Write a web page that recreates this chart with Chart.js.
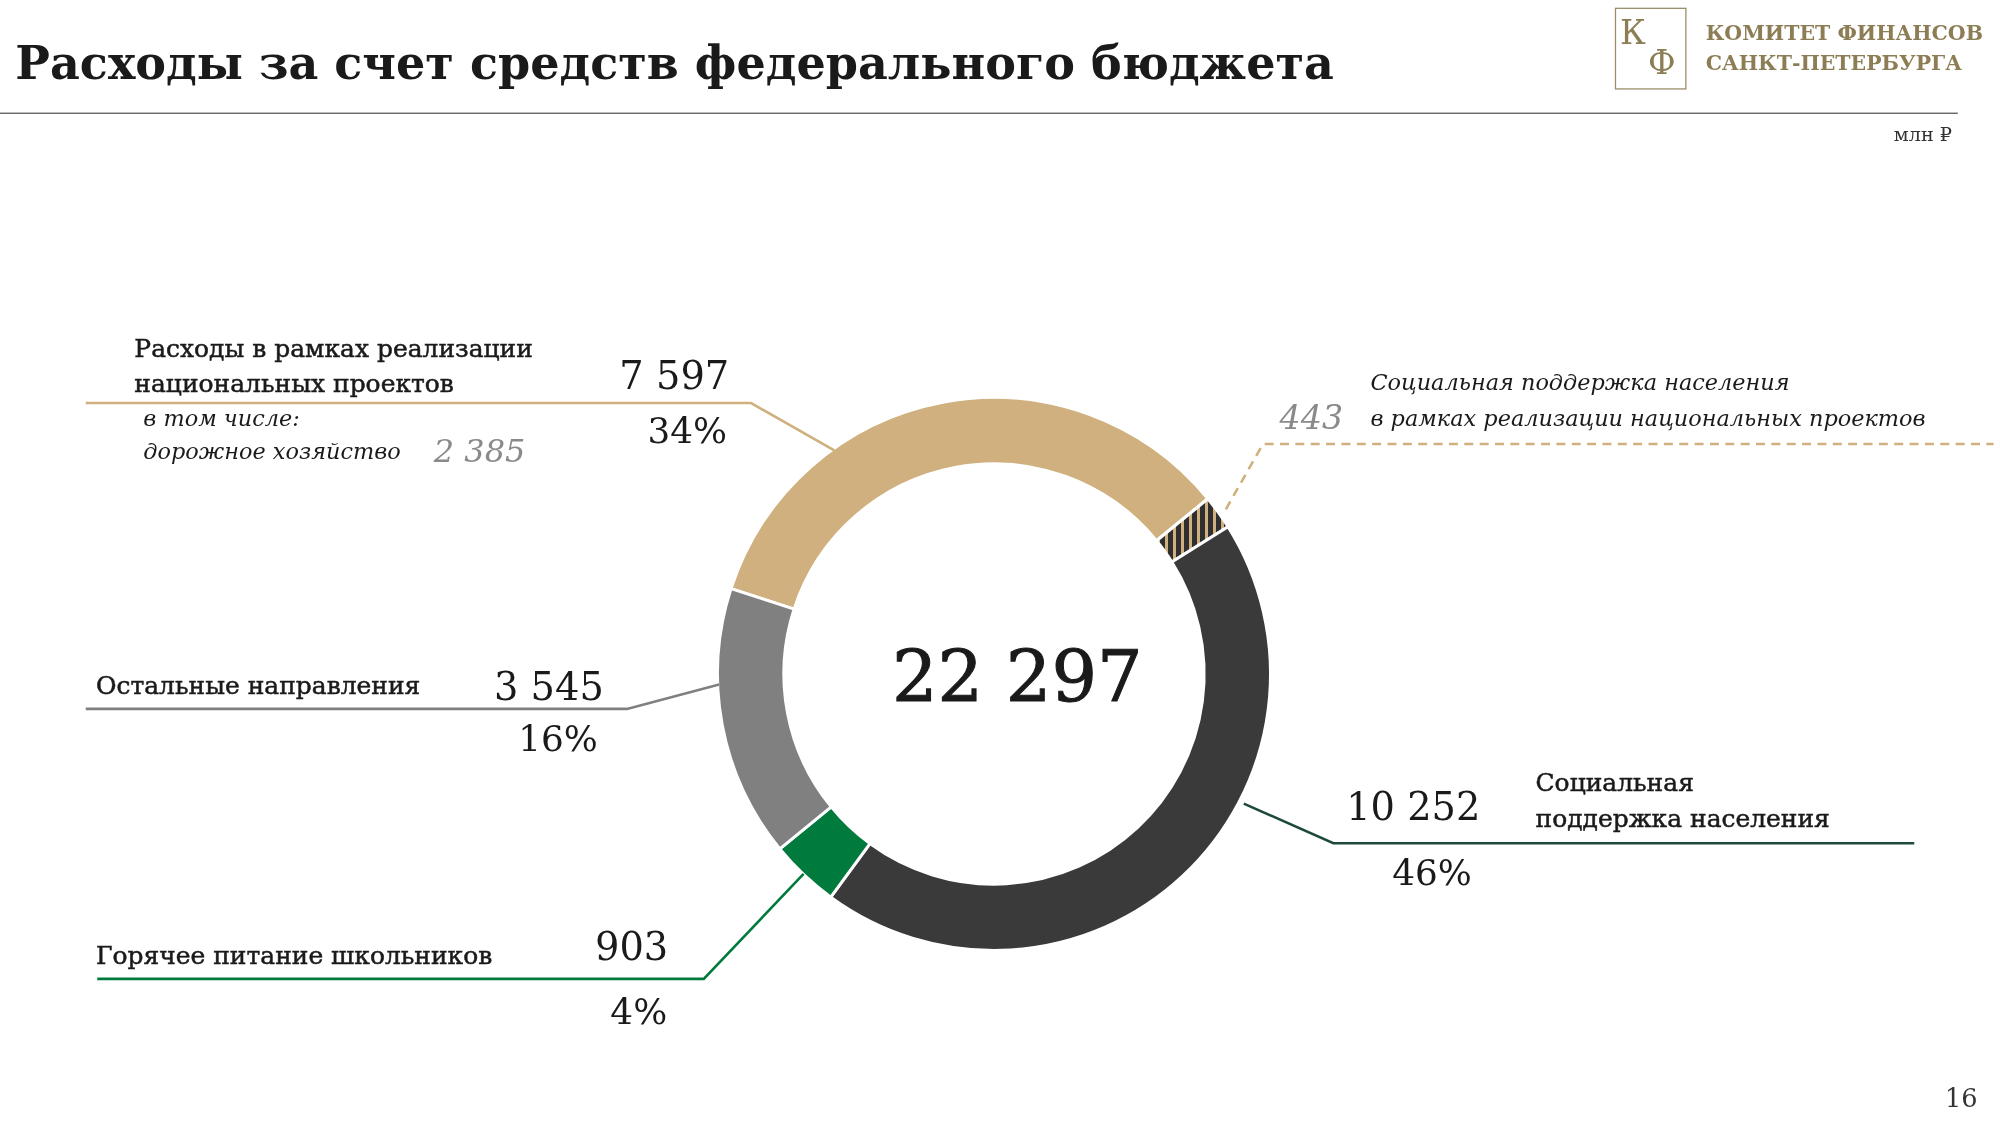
<!DOCTYPE html>
<html lang="ru">
<head>
<meta charset="UTF-8">
<title>Расходы за счет средств федерального бюджета</title>
<script src="https://cdn.jsdelivr.net/npm/chart.js"></script>
<style>
  html, body { margin: 0; padding: 0; background: #fff; }
  body { width: 2000px; height: 1125px; position: relative; overflow: hidden; font-family: "DejaVu Serif", serif; color: #1a1a1a; }
  #stage { position: absolute; left: 0; top: 0; width: 1563px; height: 879px; transform-origin: 0 0; transform: scale(1.2796); }
  .t { position: absolute; white-space: nowrap; line-height: 1; }
  .i { font-style: italic; }
  .m { -webkit-text-stroke: 0.4px #1a1a1a; }
  #chartBox { position: absolute; left: 704px; top: 384px; width: 580px; height: 580px; }
</style>
</head>
<body>
<div id="chartBox"><canvas id="donut"></canvas></div>
<div id="stage">
  <div class="t" style="left:12px;top:31px;font-size:36px;font-weight:bold;">Расходы за счет средств федерального бюджета</div>
  <div style="position:absolute;left:0;top:88px;width:1530px;height:1px;background:#555;"></div>
  <div style="position:absolute;left:1262px;top:6px;width:54px;height:62px;border:1px solid #9a8c66;"></div>
  <div class="t" style="left:1266px;top:12px;font-size:26px;color:#8c7d55;">К</div>
  <div class="t" style="left:1288px;top:36px;font-size:26px;color:#8c7d55;">Ф</div>
  <div class="t" style="left:1333px;top:18px;font-size:16px;font-weight:bold;color:#8c7d55;">КОМИТЕТ ФИНАНСОВ</div>
  <div class="t" style="left:1333px;top:42px;font-size:16px;font-weight:bold;color:#8c7d55;">САНКТ-ПЕТЕРБУРГА</div>
  <div class="t" style="left:1480px;top:98px;font-size:15px;color:#333;">млн ₽</div>
  <div class="t" style="left:1520px;top:848px;font-size:20px;color:#333;">16</div>

  <svg style="position:absolute;left:0;top:0;" width="1563" height="879">
    <polyline points="67,315 587,315 652,352" fill="none" stroke="#cfb07e" stroke-width="2"/>
    <polyline points="958,398 987,347 1558,347" fill="none" stroke="#cfb07e" stroke-width="2" stroke-dasharray="7,5"/>
    <polyline points="67,554 490,554 562,535" fill="none" stroke="#808080" stroke-width="2"/>
    <polyline points="76,765 550,765 628,683" fill="none" stroke="#007a3d" stroke-width="2"/>
    <polyline points="972,628 1042,659 1496,659" fill="none" stroke="#1d4a3a" stroke-width="2"/>
  </svg>

  <div class="t m" style="left:105px;top:263px;font-size:19.5px;">Расходы в рамках реализации</div>
  <div class="t m" style="left:105px;top:290px;font-size:19.5px;">национальных проектов</div>
  <div class="t" style="left:484px;top:279px;font-size:30px;">7 597</div>
  <div class="t" style="left:506px;top:323px;font-size:28px;">34%</div>
  <div class="t i" style="left:112px;top:319px;font-size:17.5px;">в том числе:</div>
  <div class="t i" style="left:112px;top:345px;font-size:17.5px;">дорожное хозяйство</div>
  <div class="t i" style="left:339px;top:340px;font-size:25px;color:#8a8a8a;">2 385</div>

  <div class="t i" style="left:1071px;top:291px;font-size:17.5px;">Социальная поддержка населения</div>
  <div class="t i" style="left:1071px;top:319px;font-size:17.5px;">в рамках реализации национальных проектов</div>
  <div class="t i" style="left:1000px;top:313px;font-size:26px;color:#8a8a8a;">443</div>

  <div class="t m" style="left:75px;top:526px;font-size:19.5px;">Остальные направления</div>
  <div class="t" style="left:386px;top:522px;font-size:30px;">3 545</div>
  <div class="t" style="left:405px;top:564px;font-size:28px;">16%</div>

  <div class="t m" style="left:75px;top:737px;font-size:19.5px;">Горячее питание школьников</div>
  <div class="t" style="left:465px;top:725px;font-size:30px;">903</div>
  <div class="t" style="left:477px;top:777px;font-size:28px;">4%</div>

  <div class="t" style="left:1052px;top:616px;font-size:30px;">10 252</div>
  <div class="t m" style="left:1200px;top:602px;font-size:19.5px;">Социальная</div>
  <div class="t m" style="left:1200px;top:630px;font-size:19.5px;">поддержка населения</div>
  <div class="t" style="left:1088px;top:669px;font-size:28px;">46%</div>

  <div class="t" style="left:795px;top:501px;font-size:56px;transform:translateX(-50%);-webkit-text-stroke:0.8px #1a1a1a;">22 297</div>
</div>

<script>
  // сегменты кольца по часовой стрелке
  const segments = ['Национальные проекты', 'Соц. поддержка в рамках нацпроектов', 'Социальная поддержка (прочее)', 'Горячее питание школьников', 'Остальные направления'];
  const values = [7597, 443, 9809, 903, 3545];
  const colors = ['#cfb07e', 'hatch', '#3a3a3a', '#007a3d', '#808080'];

  // штриховка для сегмента 443
  function makeHatch() {
    const c = document.createElement('canvas');
    c.width = 8; c.height = 8;
    const g = c.getContext('2d');
    g.fillStyle = '#cfb07e'; g.fillRect(0, 0, 8, 8);
    g.fillStyle = '#2f2f2f'; g.fillRect(0, 0, 5, 8);
    return g.createPattern(c, 'repeat');
  }

  const ctx = document.getElementById('donut').getContext('2d');
  const hatch = makeHatch();

  new Chart(ctx, {
    type: 'doughnut',
    data: {
      labels: segments,
      datasets: [{
        data: values,
        backgroundColor: colors.map(c => c === 'hatch' ? hatch : c),
        borderColor: '#ffffff',
        borderWidth: 3
      }]
    },
    options: {
      responsive: true,
      maintainAspectRatio: true,
      animation: false,
      rotation: -72,
      cutout: '76%',
      layout: { padding: 12 },
      plugins: { legend: { display: false }, tooltip: { enabled: false } }
    }
  });
</script>
</body>
</html>
